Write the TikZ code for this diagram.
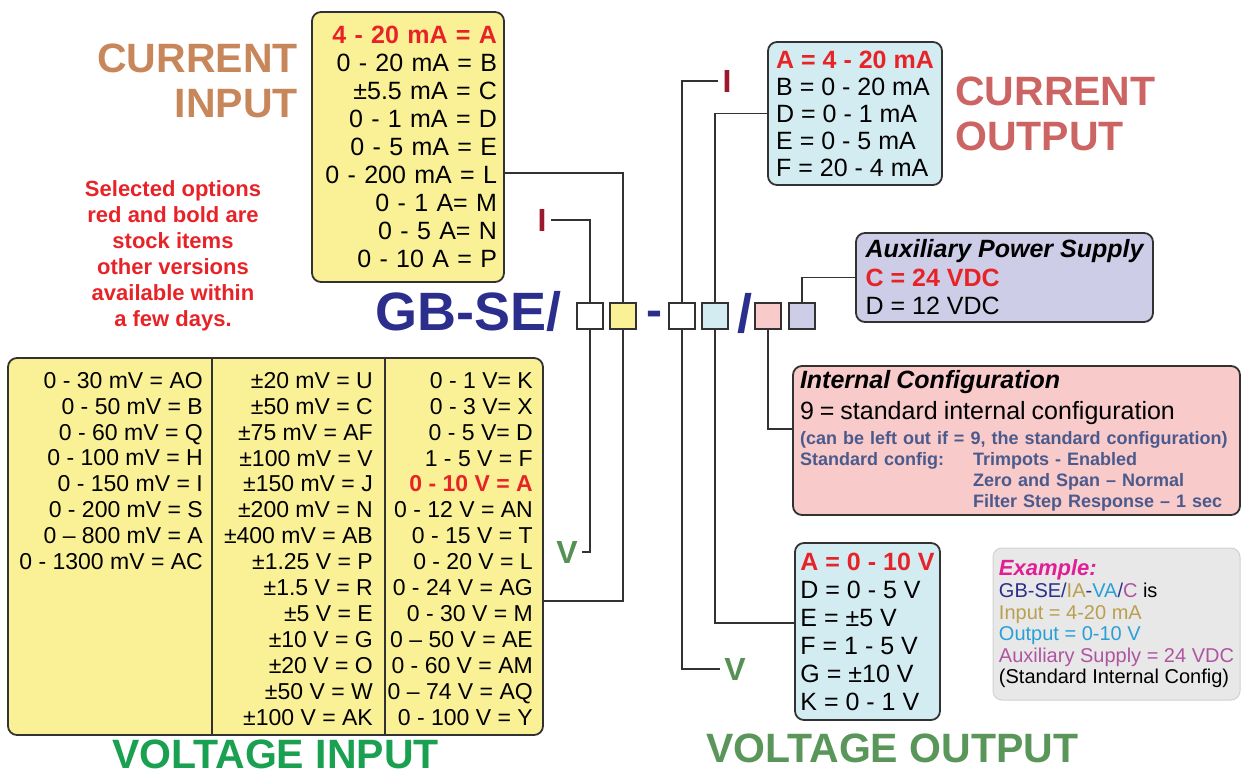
\documentclass[tikz,border=0pt]{standalone}
\usepackage{fontspec}
\setmainfont{Liberation Sans}
\usetikzlibrary{positioning}

\definecolor{boxyellow}{RGB}{250,241,150}
\definecolor{boxblue}{RGB}{210,236,242}
\definecolor{boxpink}{RGB}{248,202,202}
\definecolor{boxlilac}{RGB}{206,205,232}
\definecolor{boxgrey}{RGB}{232,232,232}
\definecolor{codeblue}{RGB}{43,46,140}
\definecolor{selred}{RGB}{232,35,40}
\definecolor{tagred}{RGB}{155,25,45}
\definecolor{taggreen}{RGB}{85,145,85}
\definecolor{cintan}{RGB}{200,135,90}
\definecolor{coutred}{RGB}{205,100,100}
\definecolor{vingreen}{RGB}{25,160,80}
\definecolor{voutgreen}{RGB}{90,150,90}
\definecolor{notegrey}{RGB}{75,90,140}
\definecolor{exmag}{RGB}{225,30,150}
\definecolor{exgold}{RGB}{185,160,80}
\definecolor{exblue}{RGB}{40,160,215}
\definecolor{expurple}{RGB}{175,85,160}
\definecolor{wirecol}{RGB}{50,50,50}

\begin{document}
\begin{tikzpicture}[x=1pt,y=-1pt,
  optbox/.style={draw=wirecol, line width=1.8pt, rounded corners=9pt, inner sep=0pt},
  sq/.style={draw=wirecol, line width=1.6pt, minimum size=26pt, inner sep=0pt},
  tag/.style={font=\fontsize{32}{32}\selectfont\bfseries, inner sep=4pt},
  wire/.style={draw=wirecol, line width=1.6pt},
  head/.style={font=\fontsize{41}{45}\selectfont\bfseries, inner sep=0pt}]
\useasboundingbox (0,0) rectangle (1243,773);

% headings and note
\node[head,text=cintan,align=right,anchor=base east] (cinhead) at (298,118) {CURRENT\\INPUT};
\node[head,text=coutred,align=left,anchor=base west] (couthead) at (955,151) {CURRENT\\OUTPUT};
\node[head,text=vingreen,anchor=base west] (vinhead) at (112,768) {VOLTAGE INPUT};
\node[head,text=voutgreen,anchor=base west] (vouthead) at (706,762) {VOLTAGE OUTPUT};
\node[font=\fontsize{22}{26}\selectfont\bfseries,text=selred,align=center] (note) at (173,256)
  {Selected options\\red and bold are\\stock items\\other versions\\available within\\a few days.};

% option boxes
\node[optbox,fill=boxyellow,minimum width=192pt,minimum height=270pt,text width=178pt,
  align=right,font=\fontsize{25}{28}\selectfont] (cin) at (408,147)
  {{\color{selred}\bfseries 4 - 20 mA = A}\\0 - 20 mA = B\\±5.5 mA = C\\0 - 1 mA = D\\0 - 5 mA = E\\
   0 - 200 mA = L\\0 - 1 A= M\\0 - 5 A= N\\0 - 10 A = P};
\node[optbox,fill=boxblue,minimum width=174pt,minimum height=143pt,
  align=left,font=\fontsize{25}{27}\selectfont] (cout) at (855,113.5)
  {{\color{selred}\bfseries A = 4 - 20 mA}\\B = 0 - 20 mA\\D = 0 - 1 mA\\E = 0 - 5 mA\\F = 20 - 4 mA};
\node[optbox,fill=boxlilac,minimum width=297pt,minimum height=89pt,
  align=left,font=\fontsize{25}{28.5}\selectfont] (aux) at (1004.5,277.5)
  {{\bfseries\itshape Auxiliary Power Supply}\\{\color{selred}\bfseries C = 24 VDC}\\D = 12 VDC};
\node[optbox,fill=boxpink,minimum width=447pt,minimum height=149pt,text width=433pt,
  align=left,text=notegrey,font=\fontsize{18}{21}\selectfont\bfseries] (cfg) at (1016.5,440.5)
  {{\fontsize{25}{28}\selectfont\color{black}\itshape Internal Configuration}\\[7pt]
   {\fontsize{25}{28}\selectfont\color{black}\mdseries 9 = standard internal configuration}\\[3.5pt]
   (can be left out if = 9, the standard configuration)\\
   \makebox[173pt][l]{Standard config:}Trimpots - Enabled\\
   \hspace*{173pt}Zero and Span – Normal\\
   \hspace*{173pt}Filter Step Response – 1 sec};
\node[optbox,fill=boxblue,minimum width=145pt,minimum height=177pt,
  align=left,font=\fontsize{25}{28}\selectfont] (vout) at (867.5,631.5)
  {{\color{selred}\bfseries A = 0 - 10 V}\\D = 0 - 5 V\\E = ±5 V\\F = 1 - 5 V\\G = ±10 V\\K = 0 - 1 V};
\node[draw=black!18,line width=1pt,rounded corners=9pt,inner sep=0pt,fill=boxgrey,
  minimum width=247pt,minimum height=152pt,align=left,
  font=\fontsize{20}{21.6}\selectfont] (ex) at (1116.5,624)
  {{\fontsize{22}{22}\selectfont\bfseries\itshape\color{exmag}Example:}\\
   {\color{codeblue}GB-SE/}{\color{exgold}IA}{\color{codeblue}-}{\color{exblue}VA}{\color{codeblue}/}{\color{expurple}C} is\\
   {\color{exgold}Input = 4-20 mA}\\
   {\color{exblue}Output = 0-10 V}\\
   {\color{expurple}Auxiliary Supply = 24 VDC}\\
   (Standard Internal Config)};

% voltage input table
\node[optbox,fill=boxyellow,minimum width=535pt,minimum height=377pt] (vin) at (275.5,546.5) {};
\draw[wire] ([xshift=205pt]vin.north west) -- ([xshift=205pt]vin.south west);
\draw[wire] ([xshift=378pt]vin.north west) -- ([xshift=378pt]vin.south west);
\node[anchor=base east,align=right,inner sep=0pt,font=\fontsize{23}{25.9}\selectfont] (vinA) at (203,569.5)
  {0 - 30 mV = AO\\0 - 50 mV = B\\0 - 60 mV = Q\\0 - 100 mV = H\\0 - 150 mV = I\\0 - 200 mV = S\\
   0 – 800 mV = A\\0 - 1300 mV = AC};
\node[anchor=base east,align=right,inner sep=0pt,font=\fontsize{23}{25.9}\selectfont] (vinB) at (373,725)
  {±20 mV = U\\±50 mV = C\\±75 mV = AF\\±100 mV = V\\±150 mV = J\\±200 mV = N\\±400 mV = AB\\
   ±1.25 V = P\\±1.5 V = R\\±5 V = E\\±10 V = G\\±20 V = O\\±50 V = W\\±100 V = AK};
\node[anchor=base east,align=right,inner sep=0pt,font=\fontsize{23}{25.9}\selectfont] (vinC) at (533,725)
  {0 - 1 V= K\\0 - 3 V= X\\0 - 5 V= D\\1 - 5 V = F\\{\color{selred}\bfseries 0 - 10 V = A}\\0 - 12 V = AN\\
   0 - 15 V = T\\0 - 20 V = L\\0 - 24 V = AG\\0 - 30 V = M\\0 – 50 V = AE\\0 - 60 V = AM\\
   0 – 74 V = AQ\\0 - 100 V = Y};

% part number
\node[anchor=base east,inner sep=0pt,font=\fontsize{54}{54}\selectfont\bfseries,text=codeblue] (code) at (562,330) {GB-SE/};
\node[sq,fill=white] (s1) at (590,316) {};
\node[sq,fill=boxyellow] (s2) at (623,316) {};
\node[anchor=base,inner sep=0pt,font=\fontsize{48}{48}\selectfont\bfseries,text=codeblue] (dash) at (654,326) {-};
\node[sq,fill=white] (s3) at (682,316) {};
\node[sq,fill=boxblue] (s4) at (715,316) {};
\node[anchor=base,inner sep=0pt,font=\fontsize{54}{54}\selectfont\bfseries,text=codeblue] (slash) at (745,332) {/};
\node[sq,fill=boxpink] (s5) at (768,316) {};
\node[sq,fill=boxlilac] (s6) at (802,316) {};

% I / V tags
\node[tag,text=tagred] (i1) at (542,220) {I};
\node[tag,text=taggreen] (v1) at (567,552) {V};
\node[tag,text=tagred] (i2) at (727,81) {I};
\node[tag,text=taggreen] (v2) at (735,669) {V};

% wiring
\draw[wire] (s1.north) |- (i1.east);
\draw[wire] (s1.south) |- (v1.east);
\draw[wire] (s2.north) |- ([yshift=-26pt]cin.east);
\draw[wire] (s2.south) |- ([yshift=-54.5pt]vin.east);
\draw[wire] (s3.north) |- (i2.west);
\draw[wire] (s3.south) |- (v2.west);
\draw[wire] (s4.north) |- (cout.west);
\draw[wire] (s4.south) |- ([yshift=8.5pt]vout.west);
\draw[wire] (s5.south) |- ([yshift=11.5pt]cfg.west);
\draw[wire] (s6.north) |- (aux.west);
\end{tikzpicture}
\end{document}
